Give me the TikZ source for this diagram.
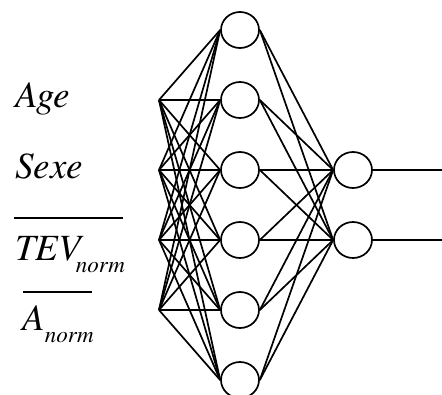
\documentclass[tikz,border=0pt]{standalone}
\usepackage{fontspec}
\setmainfont{texgyretermes}[Extension=.otf,UprightFont=*-regular,ItalicFont=*-italic,BoldFont=*-bold,BoldItalicFont=*-bolditalic]
\usetikzlibrary{shapes.geometric}
\newcommand{\subnorm}{\raisebox{-12pt}{\fontsize{23}{24}\selectfont norm}}
\begin{document}
\begin{tikzpicture}[x=1pt,y=-1pt,
  neuron/.style={draw,ellipse,line width=1.7pt,minimum width=38pt,minimum height=36pt,inner sep=0pt},
  link/.style={line width=1.7pt},
  varlabel/.style={anchor=base west,inner sep=0pt,font=\fontsize{37}{40}\selectfont\itshape}]
  \useasboundingbox (0,0) rectangle (442,394);

  % input labels
  \node[varlabel] (lage) at (15,107) {Age};
  \node[varlabel] (lsexe) at (15,178) {Sexe};
  \node[varlabel] (ltev) at (15,260) {TEV\kern-5pt\subnorm};
  \node[varlabel] (la) at (22,330) {A\subnorm};
  \coordinate (tevl) at (14,218);
  \coordinate (tevr) at (123,218);
  \coordinate (al) at (23,292);
  \coordinate (ar) at (92,292);
  \draw[link] (tevl) -- (tevr);
  \draw[link] (al) -- (ar);

  % input points
  \foreach \i/\y in {1/100,2/170,3/240,4/310}
    \coordinate (i\i) at (159,\y);

  % hidden layer
  \foreach \k in {1,...,6}
    \node[neuron] (h\k) at (240,{30+70*(\k-1)}) {};

  % output layer
  \node[neuron] (o1) at (353,170) {};
  \node[neuron] (o2) at (353,240) {};
  \coordinate (e1) at (442,170);
  \coordinate (e2) at (442,240);

  % connections
  \foreach \i in {1,...,4}
    \foreach \k in {1,...,6}
      \draw[link] (i\i) -- (h\k.west);
  \foreach \k in {1,...,6}
    \foreach \j in {1,2}
      \draw[link] (h\k.east) -- (o\j.west);
  \draw[link] (o1.east) -- (e1);
  \draw[link] (o2.east) -- (e2);
\end{tikzpicture}
\end{document}
